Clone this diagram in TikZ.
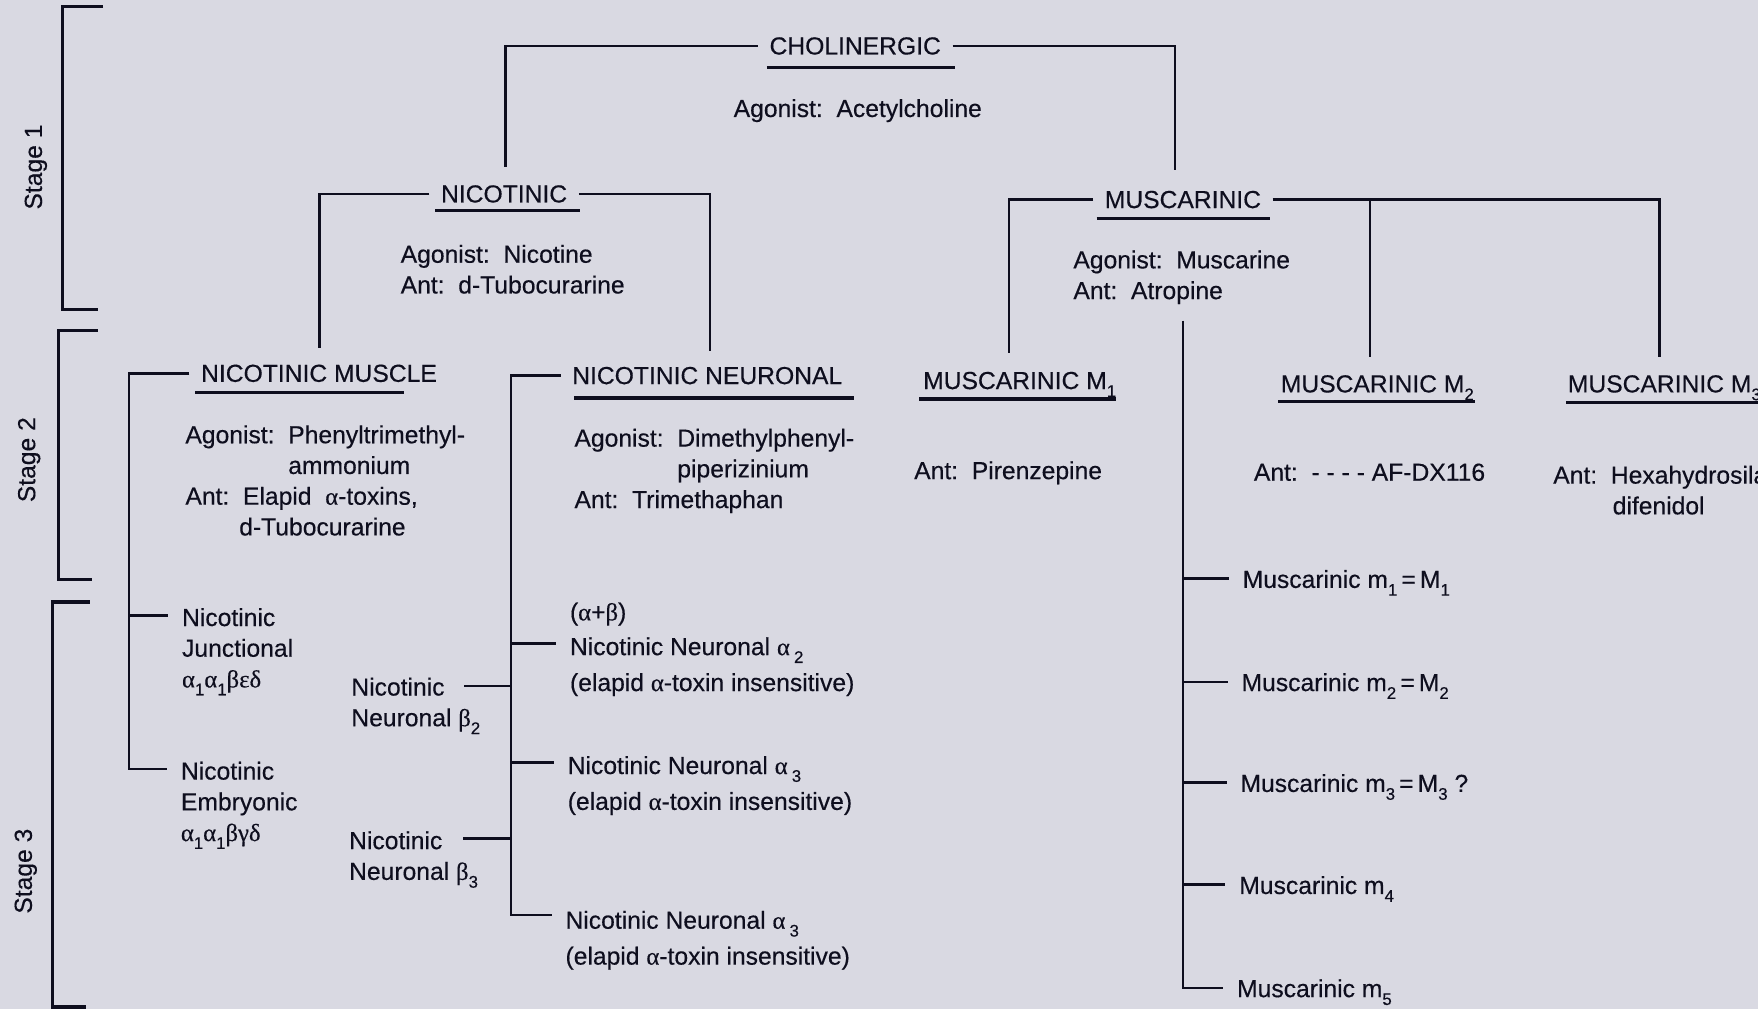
\documentclass[tikz,border=0pt]{standalone}
\usepackage{fontspec}
\setmainfont{Liberation Sans}[FakeBold=0.35]
\newfontfamily\grk{Liberation Serif}[FakeBold=0.35]
\usetikzlibrary{calc}
\definecolor{paper}{RGB}{217,217,226}
\definecolor{ink}{RGB}{14,14,30}
% subscripts and Greek letters
\newcommand{\sbs}[1]{\raisebox{-0.6ex}{\fontsize{7.5}{8}\selectfont #1}}
\newcommand{\gk}[1]{{\grk #1}}
\begin{document}
\begin{tikzpicture}[x=0.5pt,y=-0.5pt,
  font=\fontsize{11}{13.7}\selectfont,
  conn/.style={draw=ink,line width=1.05pt},
  uline/.style={draw=ink,line width=1.5pt},
  stagebar/.style={draw=ink,line width=1.5pt},
  title/.style={text=ink,inner xsep=5pt,inner ysep=0pt,anchor=west},
  subtitle/.style={text=ink,inner xsep=5pt,inner ysep=0pt,anchor=base west},
  lbl/.style={text=ink,inner xsep=6pt,inner ysep=0pt,anchor=north west,align=left},
  stagelbl/.style={text=ink,rotate=90}]
\useasboundingbox (0,0) rectangle (1568,900);
\clip (0,0) rectangle (1568,900);
\fill[paper] (0,0) rectangle (1568,900);

% ---- stage brackets ----
\node[stagelbl] (s1) at (32,149) {Stage 1};
\node[stagelbl] (s2) at (26,410) {Stage 2};
\node[stagelbl] (s3) at (23,777) {Stage 3};
\draw[stagebar] (92,6) -| (56,276) -- (87,276);
\draw[stagebar] (87,295) -| (52,517) -- (82,517);
\draw[stagebar] (80,537) -| (47,898) -- (77,898);

% ---- titles ----
\node[title] (cho) at (676,41) {CHOLINERGIC};
\node[title] (nic) at (383,173) {NICOTINIC};
\node[title] (mus) at (975,178) {MUSCARINIC};
\node[title] (nicm) at (169,333) {NICOTINIC MUSCLE};
\node[title] (nicn) at (500,335) {NICOTINIC NEURONAL};
\node[subtitle] (m1) at (813,347) {MUSCARINIC M\sbs{1}};
\node[subtitle] (m2) at (1132,350) {MUSCARINIC M\sbs{2}};
\node[subtitle] (m3) at (1388,350) {MUSCARINIC M\sbs{3}};

% title underlines
\draw[uline] ($(cho.west)+(8,19)$) -- ($(cho.west)+(176,19)$);
\draw[uline] ($(nic.west)+(5,15)$) -- ($(nic.west)+(134,15)$);
\draw[uline] ($(mus.west)+(3,17)$) -- ($(mus.west)+(158,17)$);
\draw[uline] ($(nicm.west)+(5,17)$) -- ($(nicm.west)+(191,17)$);
\draw[uline] ($(nicn.west)+(12,20)$) -- ($(nicn.west)+(262,20)$);
\draw[uline] ($(m1.base west)+(7,9)$) -- ($(m1.base west)+(182,9)$);
\draw[uline] ($(m2.base west)+(8,8)$) -- ($(m2.base west)+(184,8)$);
\draw[uline] ($(m3.base west)+(9,9)$) -- ($(m3.base west)+(184,9)$);

% ---- agonist / antagonist texts ----
\node[lbl] (acet) at (642,88) {Agonist:\ \ Acetylcholine};
\node[lbl] (nicinfo) at (345,218) {Agonist:\ \ Nicotine\\Ant:\ \ d-Tubocurarine};
\node[lbl] (musinfo) at (945,223) {Agonist:\ \ Muscarine\\Ant:\ \ Atropine};
\node[lbl] (nicminfo) at (153,379) {Agonist:\ \ Phenyltrimethyl-\\\phantom{Agonist:\ \ }ammonium\\Ant:\ \ Elapid\ \ \gk{α}-toxins,\\\hspace*{24pt}d-Tubocurarine};
\node[lbl] (nicninfo) at (500,382) {Agonist:\ \ Dimethylphenyl-\\\phantom{Agonist:\ \ }piperizinium\\Ant:\ \ Trimethaphan};
\node[lbl] (m1info) at (803,411) {Ant:\ \ Pirenzepine};
\node[lbl] (m2info) at (1106,413) {Ant:\ \ - - - - AF-DX116};
\node[lbl] (m3info) at (1373,415) {Ant:\ \ Hexahydrosila-\\\hspace*{26.5pt}difenidol};

% ---- stage 3 subtypes ----
\node[lbl] (jun) at (150,542) {Nicotinic\\Junctional\\\gk{α}\sbs{1}\gk{α}\sbs{1}\gk{βεδ}};
\node[lbl] (emb) at (149,679) {Nicotinic\\Embryonic\\\gk{α}\sbs{1}\gk{α}\sbs{1}\gk{βγδ}};
\node[lbl] (b2) at (301,604) {Nicotinic\\Neuronal \gk{β}\sbs{2}};
\node[lbl] (b3) at (299,741) {Nicotinic\\Neuronal \gk{β}\sbs{3}};
\node[lbl] (ab) at (496,537) {(\gk{α}+\gk{β})};
\node[lbl] (a2) at (496,568) {Nicotinic Neuronal \gk{α}\,\sbs{2}\\[2.3pt](elapid \gk{α}-toxin insensitive)};
\node[lbl] (a3) at (494,674) {Nicotinic Neuronal \gk{α}\,\sbs{3}\\[2.3pt](elapid \gk{α}-toxin insensitive)};
\node[lbl] (a3b) at (492,812) {Nicotinic Neuronal \gk{α}\,\sbs{3}\\[2.3pt](elapid \gk{α}-toxin insensitive)};
\node[lbl] (mm1) at (1096,508) {Muscarinic m\sbs{1}\,=\,M\sbs{1}};
\node[lbl] (mm2) at (1095,600) {Muscarinic m\sbs{2}\,=\,M\sbs{2}};
\node[lbl] (mm3) at (1094,690) {Muscarinic m\sbs{3}\,=\,M\sbs{3}\ ?};
\node[lbl] (mm4) at (1093,781) {Muscarinic m\sbs{4}};
\node[lbl] (mm5) at (1091,873) {Muscarinic m\sbs{5}};

% first-line attachment points
\coordinate (junL) at ($(jun.north west)+(0,7)$);
\coordinate (embL) at ($(emb.north west)+(0,7)$);
\coordinate (a2L) at ($(a2.north west)+(0,6)$);
\coordinate (a3L) at ($(a3.north west)+(0,6)$);
\coordinate (a3bL) at ($(a3b.north west)+(0,4)$);
\coordinate (b2tick) at ($(b2.north west)+(113,8)$);
\coordinate (b3tick) at ($(b3.north west)+(114,7)$);
\foreach \m in {mm1,mm2,mm3,mm4,mm5} {\coordinate (\m L) at ($(\m.north west)+(0,8)$);}

% branch end points and bars
\coordinate (nicTop) at (451,149);
\coordinate (musTop) at (1048,152);
\coordinate (nicmTop) at (285,310);
\coordinate (nicnTop) at (633,313);
\coordinate (m1Top) at (900,315);
\coordinate (m2Top) at (1222,318);
\coordinate (m3Top) at (1480,318);
\coordinate (nicmBar) at (115,0);
\coordinate (nicnBar) at (456,0);
\coordinate (musStem) at (1055,286);

% ---- connectors ----
\draw[conn] (cho.west) -| (nicTop);
\draw[conn] (cho.east) -| (musTop);
\draw[conn] (nic.west) -| (nicmTop);
\draw[conn] (nic.east) -| (nicnTop);
\draw[conn] (mus.west) -| (m1Top);
\draw[conn] (mus.east) -| (m3Top);
\draw[conn] (mus.east -| m2Top) -- (m2Top);

\draw[conn] (nicm.west) -| (nicmBar |- embL) -- (embL);
\draw[conn] (nicmBar |- junL) -- (junL);

\draw[conn] (nicn.west) -| (nicnBar |- a3bL) -- (a3bL);
\draw[conn] (nicnBar |- a2L) -- (a2L);
\draw[conn] (nicnBar |- a3L) -- (a3L);
\draw[conn] (b2tick) -- (b2tick -| nicnBar);
\draw[conn] (b3tick) -- (b3tick -| nicnBar);

\draw[conn] (musStem) |- (mm5L);
\foreach \m in {mm1,mm2,mm3,mm4} {\draw[conn] (musStem |- \m L) -- (\m L);}
\end{tikzpicture}
\end{document}
